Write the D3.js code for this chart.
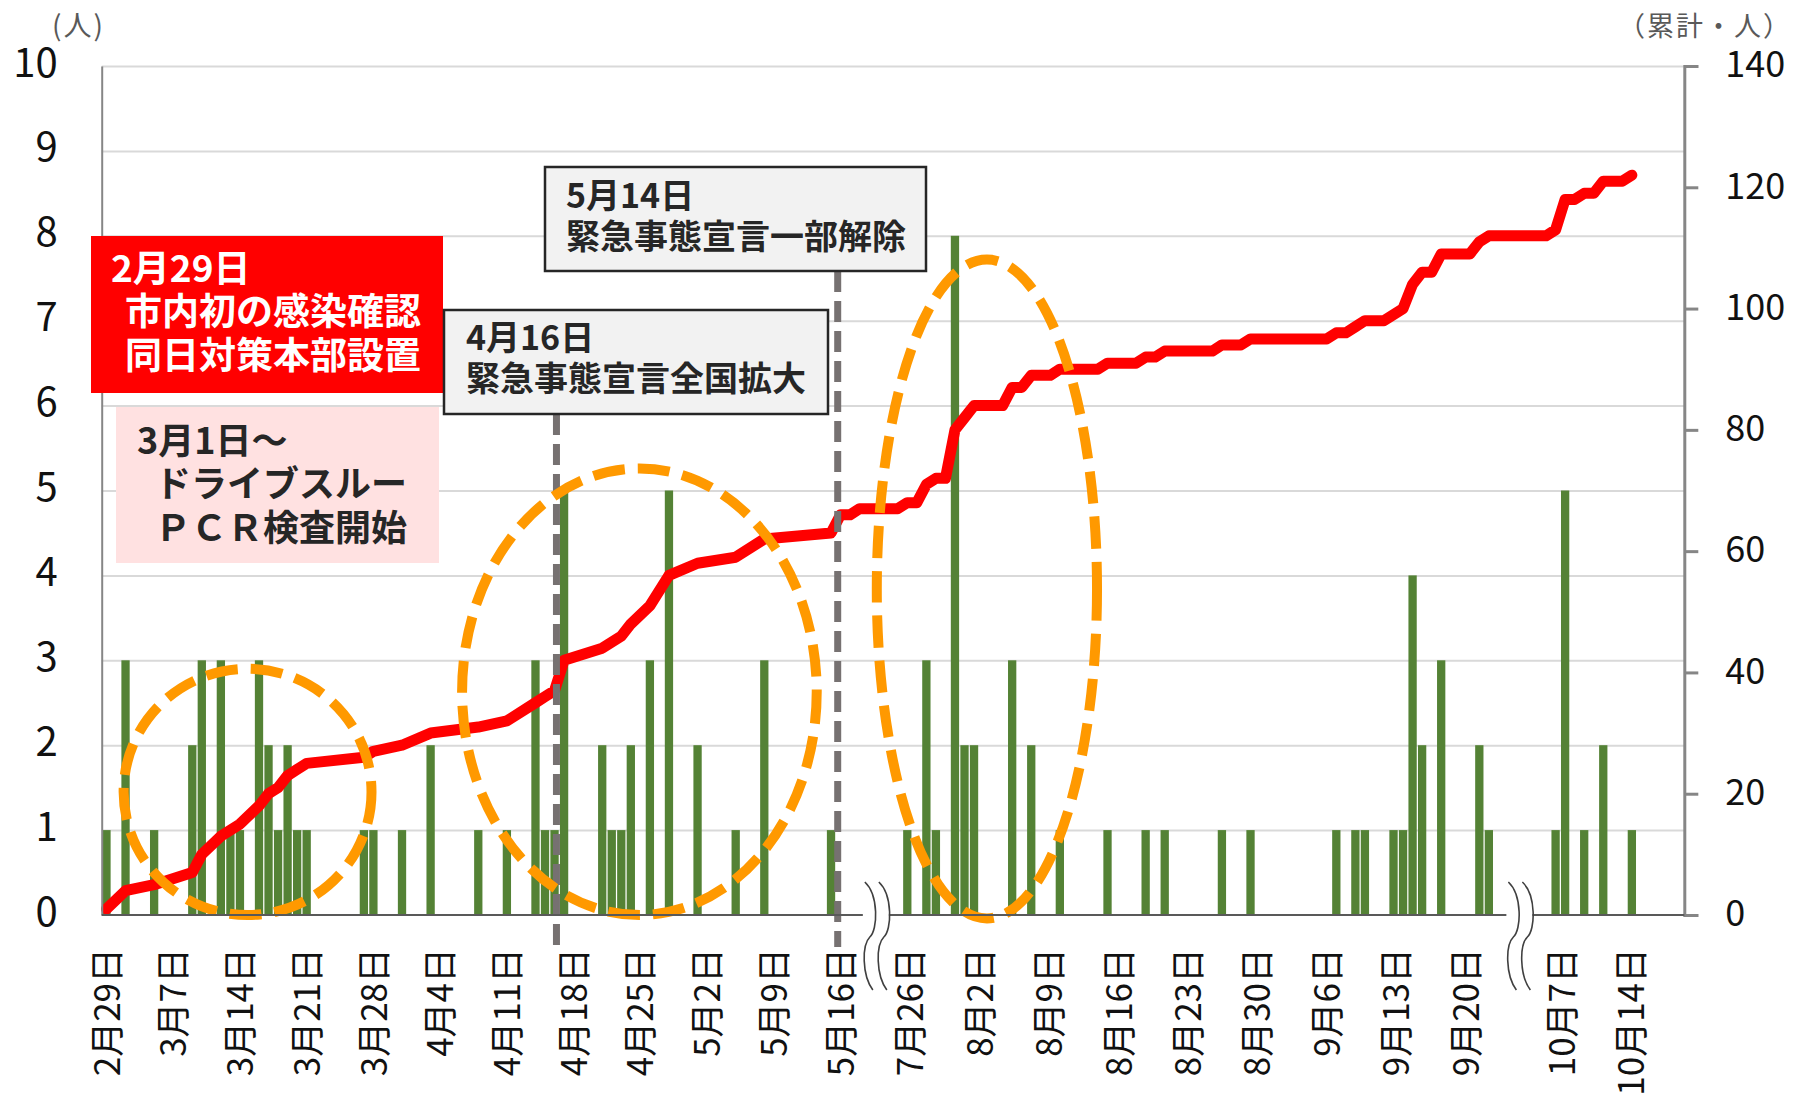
<!DOCTYPE html>
<html lang="ja">
<head>
<meta charset="utf-8">
<title>新規感染者数と累計の推移</title>
<script src="https://cdn.jsdelivr.net/npm/d3@7"></script>
<style>
    html, body { margin: 0; padding: 0; background: #fff; }
    svg { display: block; font-family: "Noto Sans CJK JP", "Noto Sans", sans-serif; }
    .grid line { stroke: #d9d9d9; stroke-width: 2; }
    .axis text { fill: #111; }
    .bar { fill: #548235; }
    .total { fill: none; stroke: #ff0000; stroke-width: 11; stroke-linejoin: round; stroke-linecap: round; }
    .event { stroke: #767171; stroke-width: 7; stroke-dasharray: 21 9; }
    .ring { fill: none; stroke: #ff9900; stroke-width: 10; stroke-dasharray: 32 13; }
    .note text { font-weight: 700; dominant-baseline: central; }
</style>
</head>
<body>
<svg id="chart" width="1794" height="1106"></svg>
<script>
// x positions are category slots; the empty slots 78-83 and 146-151 sit under the axis breaks
const caseSlots = [0, 2, 5, 9, 10, 12, 13, 14, 16, 17, 18, 19, 20, 21, 27, 28, 31, 34, 39, 42, 45, 46, 47, 48,
    52, 53, 54, 55, 57, 59, 62, 66, 69, 76,
    84, 86, 87, 89, 90, 91, 95, 97, 100, 105, 109, 111, 117, 120, 129, 131, 132, 135, 136, 137, 138, 140, 144, 145,
    152, 153, 155, 157, 160];
const caseCounts = [1, 3, 1, 2, 3, 3, 1, 1, 3, 2, 1, 2, 1, 1, 1, 1, 1, 2, 1, 1, 3, 1, 1, 5,
    2, 1, 1, 2, 3, 5, 2, 1, 3, 1,
    1, 3, 1, 8, 2, 2, 3, 2, 1, 1, 1, 1, 1, 1, 1, 1, 1, 1, 1, 4, 2, 3, 2, 1,
    1, 5, 1, 2, 1];

// cumulative total: until 5/15 only on days with cases, afterwards every slot from lateStart
const earlySlots = [0, 2, 5, 9, 10, 12, 13, 14, 16, 17, 18, 19, 20, 21, 27, 28, 31, 34, 39, 42, 45, 46, 47, 48,
    52, 53, 54, 55, 57, 59, 62, 66, 69, 76];
const earlyTotals = [1, 4, 5, 7, 10, 13, 14, 15, 18, 20, 21, 23, 24, 25, 26, 27, 28, 30, 31, 32, 35, 36, 37, 42,
    44, 45, 46, 48, 51, 56, 58, 59, 62, 63];
const lateStart = 77;
const lateTotals = [66, 66, 67, 67, 67, 67, 67,
    68, 68, 71, 72, 72, 80, 82, 84, 84, 84, 84,
    87, 87, 89, 89, 89, 90, 90, 90, 90, 90,
    91, 91, 91, 91, 92, 92, 93, 93, 93, 93, 93, 93,
    94, 94, 94, 95, 95, 95, 95, 95, 95, 95, 95, 95,
    96, 96, 97, 98, 98, 98, 99, 100, 104, 106, 106, 109,
    109, 109, 109, 111, 112, 112, 112, 112, 112, 112, 112,
    113, 118, 118, 119, 119, 121, 121, 121, 122];

const tickLabels = ["2月29日", "3月7日", "3月14日", "3月21日", "3月28日", "4月4日", "4月11日", "4月18日",
    "4月25日", "5月2日", "5月9日", "5月16日", "7月26日", "8月2日", "8月9日", "8月16日", "8月23日",
    "8月30日", "9月6日", "9月13日", "9月20日", "10月7日", "10月14日"];
const tickSlots = [0, 7, 14, 21, 28, 35, 42, 49, 56, 63, 70, 77,
    84.3, 91.6, 98.9, 106.2, 113.4, 120.7, 128, 135.3, 142.6, 152.7, 159.9];
const leftTicks = [0, 1, 2, 3, 4, 5, 6, 7, 8, 9, 10];
const rightTicks = [0, 20, 40, 60, 80, 100, 120, 140];
const breakSlots = [80.7, 148.2];

// dashed event markers and the orange rings, in slot / case units
const eventSlots = [47.2, 76.7];
const rings = [
    { from: 1.8, to: 27.8, low: 0, high: 2.9 },
    { from: 37.3, to: 74.5, low: 0, high: 5.26 },
    { from: 80.8, to: 103.9, low: -0.04, high: 7.72 }
];

class CaseChart {
    constructor(svg_selector) {
        this.svg = d3.select(svg_selector);
        this.left = 101.7;
        this.right = 1684.3;
        this.top = 66;
        this.bottom = 915;

        this.x = d3.scaleLinear().domain([-0.5, 165.5]).range([this.left, this.right]);
        this.yL = d3.scaleLinear().domain([0, 10]).range([this.bottom, this.top]);
        this.yR = d3.scaleLinear().domain([0, 140]).range([this.bottom, this.top]);

        this.drawGrid();
        this.drawBars();
        this.drawTotal();
        this.drawEvents();
        this.drawRings();
        this.drawAxes();
        this.drawNotes();
        this.drawBreaks();
    }

    drawGrid() {
        this.svg.append("g")
            .attr("class", "grid")
            .attr("transform", `translate(${this.left},0)`)
            .call(d3.axisLeft(this.yL).tickValues(leftTicks.slice(1)).tickSize(-(this.right - this.left)).tickFormat(""))
            .call(g => g.select(".domain").remove());
    }

    drawBars() {
        let vars = this;
        let bw = (this.x(1) - this.x(0)) * 0.87;

        this.svg.append("g")
            .selectAll("rect")
            .data(caseSlots)
            .enter()
            .append("rect")
            .attr("class", "bar")
            .attr("x", d => vars.x(d) - bw / 2)
            .attr("width", bw)
            .attr("y", (d, i) => vars.yL(caseCounts[i]))
            .attr("height", (d, i) => vars.yL(0) - vars.yL(caseCounts[i]));
    }

    drawTotal() {
        let points = earlySlots.map((s, i) => [s, earlyTotals[i]])
            .concat(lateTotals.map((v, k) => [lateStart + k, v]));

        let line = d3.line()
            .x(d => this.x(d[0]))
            .y(d => this.yR(d[1]));

        this.svg.append("path")
            .datum(points)
            .attr("class", "total")
            .attr("d", line);
    }

    drawEvents() {
        // lines hang from the bottom of their callout boxes
        let tops = [414, 271];
        this.svg.append("g")
            .selectAll("line")
            .data(eventSlots)
            .enter()
            .append("line")
            .attr("class", "event")
            .attr("x1", d => this.x(d))
            .attr("x2", d => this.x(d))
            .attr("y1", (d, i) => tops[i])
            .attr("y2", this.bottom + 32);
    }

    drawRings() {
        this.svg.append("g")
            .selectAll("ellipse")
            .data(rings)
            .enter()
            .append("ellipse")
            .attr("class", "ring")
            .attr("cx", d => this.x((d.from + d.to) / 2))
            .attr("rx", d => (this.x(d.to) - this.x(d.from)) / 2)
            .attr("cy", d => this.yL((d.low + d.high) / 2))
            .attr("ry", d => (this.yL(d.low) - this.yL(d.high)) / 2);
    }

    drawAxes() {
        let axisFont = "Noto Sans CJK JP";

        let left = this.svg.append("g")
            .attr("class", "axis")
            .attr("transform", `translate(${this.left},0)`)
            .call(d3.axisLeft(this.yL).tickValues(leftTicks).tickSize(0).tickPadding(44));
        left.select(".domain").attr("stroke", "#868686").attr("stroke-width", 2);
        left.selectAll("text")
            .attr("font-family", axisFont)
            .attr("font-size", 40)
            .attr("dy", "0.25em");

        let right = this.svg.append("g")
            .attr("class", "axis")
            .attr("transform", `translate(${this.right},0)`)
            .call(d3.axisRight(this.yR).tickValues(rightTicks).tickSize(14).tickPadding(27));
        right.select(".domain").attr("stroke", "#868686").attr("stroke-width", 3);
        right.selectAll("line").attr("stroke", "#868686").attr("stroke-width", 3);
        right.selectAll("text")
            .attr("font-family", axisFont)
            .attr("font-size", 36)
            .attr("dy", "0.3em");

        let bottom = this.svg.append("g")
            .attr("class", "axis")
            .attr("transform", `translate(0,${this.bottom})`)
            .call(d3.axisBottom(this.x).tickValues(tickSlots).tickFormat((d, i) => tickLabels[i]).tickSize(0));
        bottom.select(".domain").remove();
        bottom.selectAll("text")
            .attr("font-family", axisFont)
            .attr("font-size", 35)
            .attr("transform", "rotate(-90)")
            .attr("text-anchor", "end")
            .attr("x", -33)
            .attr("y", 0)
            .attr("dy", "0.36em");

        this.svg.append("line")
            .attr("x1", this.left).attr("x2", this.right)
            .attr("y1", this.bottom).attr("y2", this.bottom)
            .attr("stroke", "#595959")
            .attr("stroke-width", 2);

        this.svg.append("text")
            .attr("x", 52).attr("y", 36)
            .attr("font-size", 28)
            .attr("letter-spacing", 2)
            .attr("fill", "#595959")
            .text("(人)");

        this.svg.append("text")
            .attr("x", 1792).attr("y", 36)
            .attr("text-anchor", "end")
            .attr("font-size", 27)
            .attr("letter-spacing", 2)
            .attr("fill", "#595959")
            .text("（累計・人）");
    }

    drawNotes() {
        let notes = [
            { x: 91, y: 236, w: 352, h: 157, fill: "#ff0000", stroke: "none", color: "#ffffff", size: 37,
              lines: [["2月29日", 111, 266], ["市内初の感染確認", 125, 309], ["同日対策本部設置", 125, 353]] },
            { x: 116, y: 407, w: 323, h: 156, fill: "#ffe1e1", stroke: "none", color: "#262626", size: 36,
              lines: [["3月1日～", 137, 438], ["ドライブスルー", 155, 481], ["ＰＣＲ検査開始", 155, 525]] },
            { x: 444, y: 310, w: 384, h: 104, fill: "#f2f2f2", stroke: "#262626", color: "#262626", size: 34,
              lines: [["4月16日", 466, 335], ["緊急事態宣言全国拡大", 466, 376]] },
            { x: 545, y: 167, w: 381, h: 104, fill: "#f2f2f2", stroke: "#262626", color: "#262626", size: 34,
              lines: [["5月14日", 566, 193], ["緊急事態宣言一部解除", 566, 234]] }
        ];

        let note = this.svg.append("g")
            .selectAll(".note")
            .data(notes)
            .enter()
            .append("g")
            .attr("class", "note");

        note.append("rect")
            .attr("x", d => d.x).attr("y", d => d.y)
            .attr("width", d => d.w).attr("height", d => d.h)
            .attr("fill", d => d.fill)
            .attr("stroke", d => d.stroke)
            .attr("stroke-width", 2.5);

        // one text block per box, one tspan per line
        note.append("text")
            .attr("fill", d => d.color)
            .attr("font-size", d => d.size)
            .selectAll("tspan")
            .data(d => d.lines)
            .enter()
            .append("tspan")
            .attr("x", l => l[1])
            .attr("y", l => l[2])
            .text(l => l[0]);
    }

    drawBreaks() {
        let vars = this;
        let wave = a => `M${a - 5},882 C${a + 9},895 ${a + 8},930 ${a},937 C${a - 8},945 ${a - 8},975 ${a + 3},990`;

        let brk = this.svg.append("g")
            .selectAll("g")
            .data(breakSlots)
            .enter()
            .append("g");

        brk.append("rect")
            .attr("x", d => vars.x(d) - 13)
            .attr("y", 882)
            .attr("width", 26)
            .attr("height", 108)
            .attr("fill", "#ffffff");

        brk.append("path")
            .attr("d", d => wave(vars.x(d) - 6) + " " + wave(vars.x(d) + 8))
            .attr("fill", "none")
            .attr("stroke", "#404040")
            .attr("stroke-width", 1.6);
    }
}

new CaseChart("#chart");
</script>
</body>
</html>
